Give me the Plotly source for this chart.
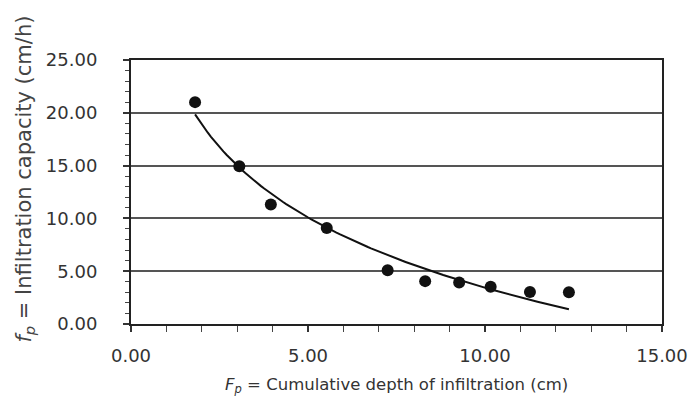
import numpy as np
import plotly.graph_objects as go

Fp = [1.81, 3.06, 3.95, 5.53, 7.25, 8.31, 9.27, 10.16, 11.27, 12.37]
fp = [21.01, 14.93, 11.31, 9.10, 5.10, 4.06, 3.94, 3.53, 3.02, 3.00]

x_ticks = [0, 5, 10, 15]
x_labels = ["0.00", "5.00", "10.00", "15.00"]
y_ticks = [0, 5, 10, 15, 20, 25]
y_labels = ["0.00", "5.00", "10.00", "15.00", "20.00", "25.00"]

# Logarithmic trendline fitted to the data (as a spreadsheet trendline would)
b, a = np.polyfit(np.log(Fp), fp, 1)
xt = np.linspace(min(Fp), max(Fp), 120)
yt = a + b * np.log(xt)

FONT = "DejaVu Sans, Liberation Sans, Arial, sans-serif"
TXT = "#333333"

fig = go.Figure()
fig.add_trace(go.Scatter(x=xt, y=yt, mode="lines",
                         line=dict(color="#111111", width=2), showlegend=False))
fig.add_trace(go.Scatter(x=Fp, y=fp, mode="markers",
                         marker=dict(color="#111111", size=12), showlegend=False))

fig.update_layout(
    width=692, height=412,
    margin=dict(l=131, r=30, t=60, b=88),
    paper_bgcolor="white", plot_bgcolor="white",
    font=dict(family=FONT, size=18, color=TXT),
    xaxis=dict(range=[0, 15], tickvals=x_ticks, ticktext=x_labels,
               showgrid=False, zeroline=False, automargin=False,
               showline=True, linecolor="#222222", linewidth=2, mirror=True,
               ticks="outside", ticklen=6, tickcolor="#333333", tickwidth=1.5,
               ticklabelposition="outside", ticklabelstandoff=8,
               minor=dict(dtick=1, ticks="outside", ticklen=6, tickcolor="#444444", tickwidth=1.2),
               tickfont=dict(family=FONT, size=18, color=TXT)),
    yaxis=dict(range=[0, 25], tickvals=y_ticks, ticktext=y_labels,
               showgrid=True, gridcolor="#555555", gridwidth=1.5, zeroline=False, automargin=False,
               showline=True, linecolor="#222222", linewidth=2, mirror=True,
               ticks="outside", ticklen=6, tickcolor="#333333", tickwidth=1.5,
               ticklabelposition="outside", ticklabelstandoff=22,
               minor=dict(dtick=1, ticks="outside", ticklen=4, tickcolor="#444444", tickwidth=1.2),
               tickfont=dict(family=FONT, size=18, color=TXT)),
    annotations=[
        dict(text="<i>F<sub>p</sub></i> = Cumulative depth of infiltration (cm)",
             xref="paper", yref="paper", x=0.5, y=-0.233, xanchor="center", yanchor="middle",
             showarrow=False, font=dict(family=FONT, size=16.5, color=TXT)),
        dict(text="<i>f<sub>p</sub></i> = Infiltration capacity (cm/h)",
             xref="paper", yref="paper", x=-0.2, y=0.55, xanchor="center", yanchor="middle",
             textangle=-90, showarrow=False, font=dict(family=FONT, size=21, color="#444444")),
    ],
)

fig.write_html("out.html",
               config={"displayModeBar": False},
               post_script="document.body.style.margin='0';document.body.style.overflow='hidden';")
